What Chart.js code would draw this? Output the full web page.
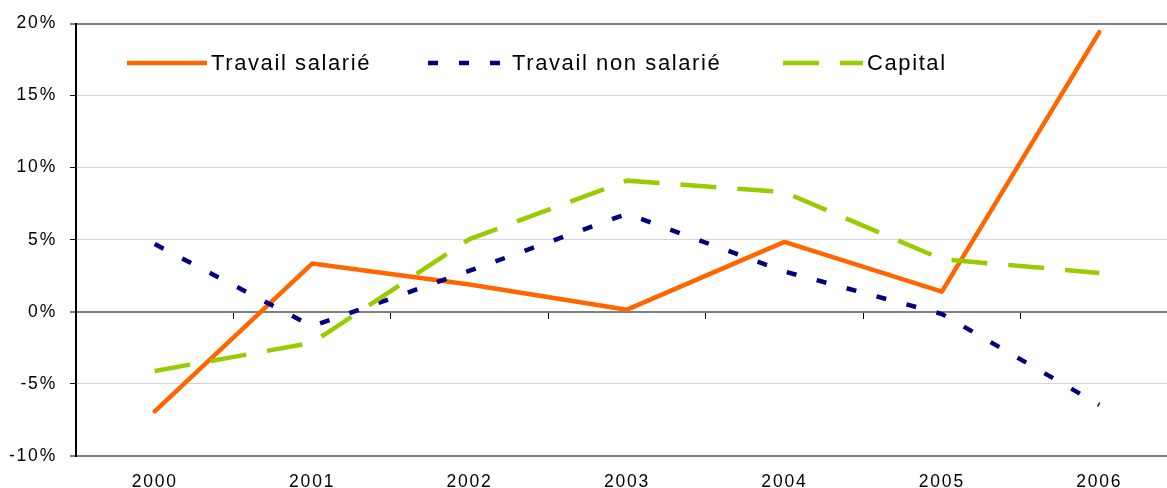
<!DOCTYPE html>
<html>
<head>
<meta charset="utf-8">
<script src="https://cdn.jsdelivr.net/npm/chart.js@4/dist/chart.umd.min.js"></script>
<style>
html, body { margin: 0; padding: 0; overflow: hidden; background: #fff; }
#wrap { position: relative; width: 1180px; height: 488px; }
</style>
</head>
<body>
<div id="wrap"><canvas id="c"></canvas></div>
<script>
const years = ['2000', '2001', '2002', '2003', '2004', '2005', '2006'];
const seriesNames = ['Travail salarié', 'Travail non salarié', 'Capital'];
const travailSalarie = [-6.9, 3.35, 1.9, 0.15, 4.85, 1.4, 19.4];
const travailNonSalarie = [4.7, -1.0, 2.85, 6.8, 2.8, -0.15, -6.45];
const capital = [-4.1, -2.15, 5.05, 9.1, 8.3, 3.65, 2.7];
const yTicks = [-10, -5, 0, 5, 10, 15, 20];

const FONT = "'Liberation Sans', Arial, sans-serif";

const spacingPlugin = {
  id: 'spacing',
  beforeDraw(chart) { chart.ctx.letterSpacing = '1.8px'; }
};

const legendPlugin = {
  id: 'customLegend',
  afterDraw(chart, args, opts) {
    const ctx = chart.ctx;
    ctx.save();
    ctx.letterSpacing = '1.6px';
    ctx.font = '22px ' + FONT;
    ctx.textBaseline = 'middle';
    ctx.fillStyle = '#000';
    chart.data.datasets.forEach((ds, i) => {
      const x0 = opts.starts[i];
      const y = opts.y;
      ctx.save();
      ctx.beginPath();
      ctx.rect(x0 - 3, y - 10, opts.sampleWidth + 3, 20);
      ctx.clip();
      ctx.strokeStyle = ds.borderColor;
      ctx.lineWidth = ds.borderWidth;
      ctx.lineCap = 'butt';
      ctx.setLineDash(ds.borderDash || []);
      ctx.beginPath();
      ctx.moveTo(x0, y);
      ctx.lineTo(x0 + opts.sampleWidth + 20, y);
      ctx.stroke();
      ctx.restore();
      ctx.fillText(ds.label, x0 + opts.textOffset, y + 1);
    });
    ctx.restore();
  }
};

new Chart(document.getElementById('c'), {
  type: 'line',
  data: {
    labels: years,
    datasets: [
      { label: seriesNames[0], data: travailSalarie, borderColor: '#FF6600', backgroundColor: '#FF6600',
        borderWidth: 4.5, pointRadius: 0, tension: 0, order: 2, borderCapStyle: 'round', borderJoinStyle: 'round' },
      { label: seriesNames[1], data: travailNonSalarie, borderColor: '#000080', backgroundColor: '#000080',
        borderWidth: 4.5, borderDash: [10, 21], pointRadius: 0, tension: 0, order: 1 },
      { label: seriesNames[2], data: capital, borderColor: '#99CC00', backgroundColor: '#99CC00',
        borderWidth: 4.5, borderDash: [36, 21], pointRadius: 0, tension: 0, order: 0 }
    ]
  },
  options: {
    responsive: true,
    maintainAspectRatio: false,
    animation: false,
    layout: { padding: { top: 22, right: 2, left: 0, bottom: 0 } },
    plugins: {
      legend: { display: false },
      tooltip: { enabled: false },
      customLegend: { starts: [127, 428, 783], y: 63, sampleWidth: 80, textOffset: 84 }
    },
    scales: {
      x: {
        type: 'category',
        position: 'bottom',
        offset: true,
        grid: { display: false },
        border: { display: false },
        ticks: { color: '#000', font: { family: FONT, size: 17.5 }, padding: 8, maxRotation: 0 },
        afterFit(scale) { scale.height = 32; }
      },
      x2: {
        type: 'category',
        labels: years,
        position: { y: 0 },
        offset: true,
        grid: { display: true, offset: true, drawOnChartArea: false, drawTicks: true, tickLength: 6, tickColor: '#000', tickWidth: 1 },
        border: { display: true, color: '#808080', width: 2 },
        ticks: { display: false }
      },
      y: {
        min: -10,
        max: 20,
        afterBuildTicks(scale) { scale.ticks = yTicks.map(v => ({ value: v })); },
        grid: {
          color: (c) => (c.tick && (c.tick.value === 20 || c.tick.value === -10 || c.tick.value === 0)) ? '#808080' : '#D4D4D4',
          lineWidth: (c) => (c.tick && (c.tick.value === 20 || c.tick.value === -10 || c.tick.value === 0)) ? 2 : 1,
          tickLength: 6,
          tickColor: '#000',
          tickWidth: 1
        },
        border: { display: true, color: '#000', width: 2 },
        ticks: { color: '#000', font: { family: FONT, size: 17.5 }, padding: 13, callback: (v) => v + '%' },
        afterFit(scale) { scale.width = 76; }
      }
    }
  },
  plugins: [spacingPlugin, legendPlugin]
});
</script>
</body>
</html>
